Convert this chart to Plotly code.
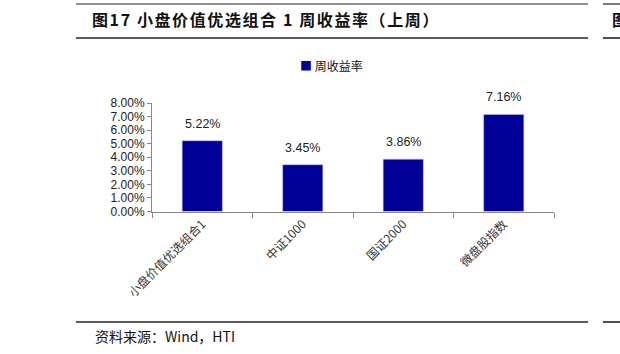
import plotly.graph_objects as go

categories = ["小盘价值优选组合1", "中证1000", "国证2000", "微盘股指数"]
values = [5.22, 3.45, 3.86, 7.16]
labels = ["5.22%", "3.45%", "3.86%", "7.16%"]
tick_vals = [0, 1, 2, 3, 4, 5, 6, 7, 8]
tick_text = ["0.00%", "1.00%", "2.00%", "3.00%", "4.00%", "5.00%", "6.00%", "7.00%", "8.00%"]
series_name = "周收益率"
title_text = "图17 小盘价值优选组合 1 周收益率（上周）"
source_text = "资料来源：Wind，HTI"

W, H = 620, 354
BAR = "#000099"
def px(x): return x / W
def py(y): return 1 - y / H

fig = go.Figure()
fig.add_trace(go.Bar(
    x=categories, y=values, name=series_name,
    marker=dict(color=BAR, line=dict(color="#c8c8f0", width=0.6)),
    width=0.4, showlegend=False,
))

ann = []
for c, v, t in zip(categories, values, labels):
    ann.append(dict(x=c, y=v, xref="x", yref="y", text=t, showarrow=False,
                    yshift=17, font=dict(family="Liberation Sans, Arial", size=12.5, color="#222")))
ann.append(dict(x=px(90), y=py(19), xref="paper", yref="paper", xanchor="left", yanchor="middle",
                text="<span style='letter-spacing:1.6px'><b>" + title_text + "</b></span>", showarrow=False,
                font=dict(family="Noto Sans CJK SC", size=16, color="#111")))
ann.append(dict(x=px(610), y=py(19), xref="paper", yref="paper", xanchor="left", yanchor="middle",
                text="<b>图</b>", showarrow=False,
                font=dict(family="Noto Sans CJK SC", size=16, color="#111")))
ann.append(dict(x=px(93), y=py(336), xref="paper", yref="paper", xanchor="left", yanchor="middle",
                text=source_text, showarrow=False,
                font=dict(family="Noto Sans CJK SC", size=14, color="#111")))
# legend drawn as marker square + text
ann.append(dict(x=px(298), y=py(66), xref="paper", yref="paper", xanchor="left", yanchor="middle",
                text="<span style='color:" + BAR + "'>■</span> " + series_name, showarrow=False,
                font=dict(family="Noto Sans CJK SC", size=12, color="#111")))

shapes = [
    dict(type="line", xref="paper", yref="paper", x0=px(76), x1=px(588), y0=py(4), y1=py(4), line=dict(color="#222", width=1.2)),
    dict(type="line", xref="paper", yref="paper", x0=px(76), x1=px(588), y0=py(38), y1=py(38), line=dict(color="#222", width=1.6)),
    dict(type="line", xref="paper", yref="paper", x0=px(76), x1=px(588), y0=py(322), y1=py(322), line=dict(color="#222", width=1.6)),
    dict(type="line", xref="paper", yref="paper", x0=px(603), x1=1, y0=py(4), y1=py(4), line=dict(color="#222", width=1.2)),
    dict(type="line", xref="paper", yref="paper", x0=px(603), x1=1, y0=py(38), y1=py(38), line=dict(color="#222", width=1.6)),
    dict(type="line", xref="paper", yref="paper", x0=px(603), x1=1, y0=py(322), y1=py(322), line=dict(color="#222", width=1.6)),
]

fig.update_layout(
    width=W, height=H, margin=dict(l=0, r=0, t=0, b=0),
    paper_bgcolor="white", plot_bgcolor="white",
    annotations=ann, shapes=shapes,
    showlegend=False,
    xaxis=dict(domain=[px(152), px(554)], range=[-0.5, 3.5], showline=True, linecolor="#888",
               linewidth=1, ticks="outside", ticklen=5, tickcolor="#888", tickangle=-45,
               tickson="boundaries", showgrid=False, automargin=False,
               tickfont=dict(family="Noto Sans CJK SC", size=12, color="#333")),
    yaxis=dict(domain=[py(211.5), py(103)], range=[0, 8], tickvals=tick_vals, ticktext=tick_text,
               showline=True, linecolor="#888", linewidth=1, ticks="outside", ticklen=4,
               tickcolor="#888", showgrid=False, zeroline=False, automargin=False,
               tickfont=dict(family="Liberation Sans, Arial", size=12, color="#222")),
)

fig.write_html("out.html")
